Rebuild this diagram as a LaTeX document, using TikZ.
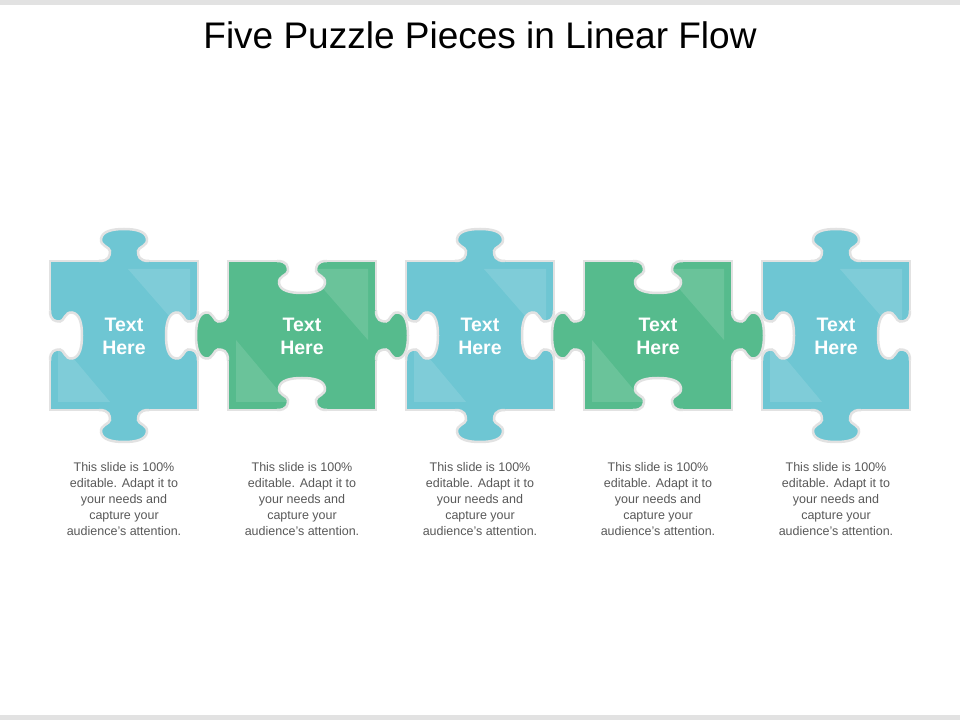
\documentclass[tikz,border=0pt]{standalone}
\usepackage{fontspec}
\setmainfont{Liberation Sans}
\definecolor{pblue}{HTML}{6EC6D3}
\definecolor{pgreen}{HTML}{56BB8D}
\definecolor{edge}{HTML}{E2E2E2}
\definecolor{desc}{HTML}{595959}
\newcommand\knob{(-25,0) .. controls (-15,0) and (-14,5) .. (-14,10) .. controls (-14,14) and (-24,15) .. (-23,22) .. controls (-22,30) and (-11,32) .. (0,32) .. controls (11,32) and (22,30) .. (23,22) .. controls (24,15) and (14,14) .. (14,10) .. controls (14,5) and (15,0) .. (25,0)}
\tikzset{
  piecebox/.style={line width=2.5pt, draw=edge},
  knobline/.style={line width=2.5pt, draw=edge},
  ptext/.style={text=white, font=\bfseries\fontsize{19.5}{23}\selectfont, align=center},
  dtext/.style={text=desc, font=\fontsize{12.5}{16}\selectfont, align=center},
  kup/.style={},
  kdown/.style={yscale=-1},
  kright/.style={cm={0,1,1,0,(0,0)}},
  kleft/.style={cm={0,1,-1,0,(0,0)}}
}
\newcommand\drawknob[4]{%
  \begin{scope}[shift={(#1,#2)},#3]
    \fill[#4] (25,-4) -- (-25,-4) -- \knob -- cycle;
    \draw[knobline] \knob;
  \end{scope}}
\begin{document}
\begin{tikzpicture}[x=1pt,y=1pt]
\useasboundingbox (0,0) rectangle (960,720);
\fill[white] (0,0) rectangle (960,720);
\fill[edge] (0,715) rectangle (960,720);
\fill[edge] (0,0) rectangle (960,5);
\node[font=\fontsize{37}{42}\selectfont, text=black] (title) at (480,685) {Five Puzzle Pieces in Linear Flow};
\foreach \i/\xl/\col in {1/50/pblue,2/228/pgreen,3/406/pblue,4/584/pgreen,5/762/pblue}{
  \pgfmathsetmacro\xr{\xl+148}
  \filldraw[piecebox, fill=\col] (\xl,310) rectangle (\xr,459);
  \fill[white, opacity=0.12] (\xr-8,451) -- (\xr-8,380) -- (\xr-70,451) -- cycle;
  \fill[white, opacity=0.12] (\xl+8,318) -- (\xl+8,380) -- (\xl+60,318) -- cycle;
}
\foreach \i/\xl/\col/\kind in {1/50/pblue/b,2/228/pgreen/g,3/406/pblue/b,4/584/pgreen/g,5/762/pblue/b}{
  \pgfmathsetmacro\xr{\xl+148}
  \pgfmathsetmacro\xc{\xl+74}
  \if\kind b
    \drawknob{\xc}{459}{kup}{\col}
    \drawknob{\xc}{310}{kdown}{\col}
    \drawknob{\xl}{384.5}{kright}{white}
    \drawknob{\xr}{384.5}{kleft}{white}
  \fi
}
\foreach \i/\xl/\col/\kind in {1/50/pblue/b,2/228/pgreen/g,3/406/pblue/b,4/584/pgreen/g,5/762/pblue/b}{
  \pgfmathsetmacro\xr{\xl+148}
  \pgfmathsetmacro\xc{\xl+74}
  \if\kind g
    \drawknob{\xc}{459}{kdown}{white}
    \drawknob{\xc}{310}{kup}{white}
    \drawknob{\xl}{384.5}{kleft}{\col}
    \drawknob{\xr}{384.5}{kright}{\col}
  \fi
  \node[ptext] (t\i) at (\xc,384) {Text\\Here};
  \node[dtext, anchor=north] (d\i) at (\xc,261) {This slide is 100\%\\editable. Adapt it to\\your needs and\\capture your\\audience's attention.};
}
\end{tikzpicture}
\end{document}
